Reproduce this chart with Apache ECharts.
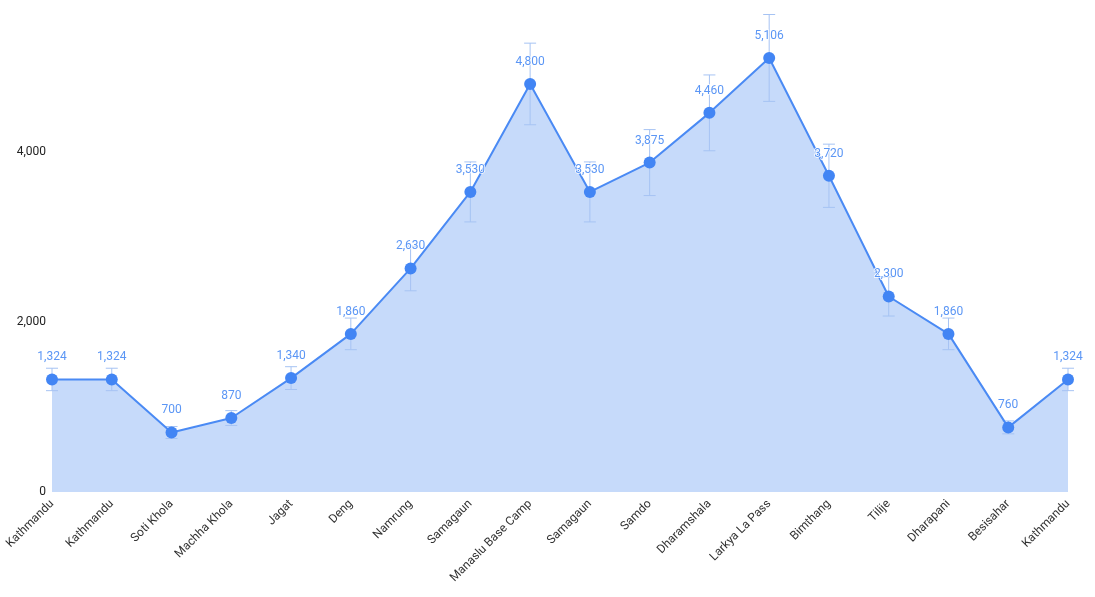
<!DOCTYPE html>
<html>
<head>
<meta charset="utf-8">
<script src="https://cdn.jsdelivr.net/npm/echarts@6/dist/echarts.min.js"></script>
<style>
  html, body { margin: 0; padding: 0; background: #fff; }
  #main { width: 1095px; height: 597px; }
</style>
</head>
<body>
<div id="main"></div>
<script>
// stops along the trek
var places = ['Kathmandu', 'Kathmandu', 'Soti Khola', 'Machha Khola', 'Jagat', 'Deng', 'Namrung', 'Samagaun',
    'Manaslu Base Camp', 'Samagaun', 'Samdo', 'Dharamshala', 'Larkya La Pass', 'Bimthang', 'Tilije',
    'Dharapani', 'Besisahar', 'Kathmandu'];
// altitude (m)
var altitude = [1324, 1324, 700, 870, 1340, 1860, 2630, 3530, 4800, 3530, 3875, 4460, 5106, 3720, 2300, 1860, 760, 1324];
// error bar half-length
var errs = [132, 132, 70, 87, 134, 186, 263, 353, 480, 353, 388, 446, 511, 372, 230, 186, 76, 132];
var yTicks = [0, 2000, 4000];

(function(){
    var myChart = echarts.init(document.getElementById('main'));
    var errData = altitude.map(function (v, i) {
        return [i, v - errs[i], v + errs[i]];
    });
    option = {
        animation: false,
        textStyle: { fontFamily: 'Roboto' },
        grid: { left: 52, right: 27, top: 10, bottom: 105 },
        xAxis: {
            type: 'category',
            data: places,
            boundaryGap: false,
            axisLine: { show: false },
            axisTick: { show: false },
            axisLabel: { rotate: 45, color: '#333', fontSize: 12, margin: 10, interval: 0 },
            splitLine: { show: false }
        },
        yAxis: {
            type: 'value',
            min: 0,
            max: 5670,
            interval: 2000,
            axisLine: { show: false },
            axisTick: { show: false },
            splitLine: { show: false },
            axisLabel: {
                color: '#222', fontSize: 12, margin: 6, showMaxLabel: false,
                formatter: function (v) {
                    return yTicks.indexOf(v) >= 0 ? v.toLocaleString('en-US') : '';
                }
            }
        },
        series: [
            {
                // filled area
                type: 'line',
                data: altitude,
                symbol: 'none',
                lineStyle: { width: 0 },
                areaStyle: { color: '#c6dafa', opacity: 1 },
                z: 1
            },
            {
                // error bars
                type: 'custom',
                data: errData,
                z: 2,
                renderItem: function (params, api) {
                    var x = api.value(0);
                    var lo = api.coord([x, api.value(1)]);
                    var hi = api.coord([x, api.value(2)]);
                    var w = 6;
                    var st = { stroke: '#a6c3f3', lineWidth: 1 };
                    return {
                        type: 'group',
                        children: [
                            { type: 'line', shape: { x1: hi[0], y1: hi[1], x2: lo[0], y2: lo[1] }, style: st },
                            { type: 'line', shape: { x1: hi[0] - w, y1: hi[1], x2: hi[0] + w, y2: hi[1] }, style: st },
                            { type: 'line', shape: { x1: lo[0] - w, y1: lo[1], x2: lo[0] + w, y2: lo[1] }, style: st }
                        ]
                    };
                }
            },
            {
                // line with points and value labels
                type: 'line',
                data: altitude,
                symbol: 'circle',
                symbolSize: 12,
                itemStyle: { color: '#4285f4' },
                lineStyle: { color: '#4a8af4', width: 2 },
                label: {
                    show: true,
                    position: 'top',
                    distance: 10,
                    color: '#5b96f5',
                    fontSize: 12,
                    textBorderColor: '#fff',
                    textBorderWidth: 1.5,
                    formatter: function (p) {
                        return p.value.toLocaleString('en-US');
                    }
                },
                z: 3
            }
        ]
    };
    myChart.setOption(option);
})();
</script>
</body>
</html>
